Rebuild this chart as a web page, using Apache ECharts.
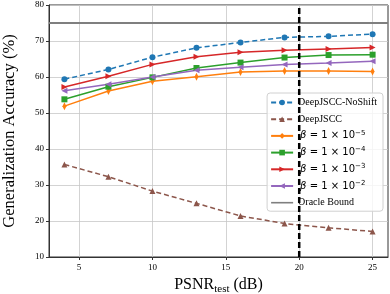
<!DOCTYPE html>
<html><head><meta charset="utf-8">
<script src="https://cdn.jsdelivr.net/npm/echarts@6/dist/echarts.min.js"></script>
<style>html,body{margin:0;padding:0;background:#fff}#c{width:390px;height:294px}</style>
</head><body><div id="c"></div>
<script>
const psnr = [4, 7, 10, 13, 16, 19, 22, 25];
const noShift = [59.4, 62.1, 65.5, 68.1, 69.6, 71.0, 71.3, 71.9];
const deepJSCC = [35.7, 32.3, 28.3, 24.9, 21.4, 19.3, 18.1, 17.1];
const beta5 = [51.9, 56.1, 58.8, 60.1, 61.4, 61.7, 61.7, 61.5];
const beta4 = [53.8, 57.3, 59.9, 62.5, 64.0, 65.4, 66.1, 66.2];
const beta3 = [57.2, 60.2, 63.5, 65.6, 66.9, 67.4, 67.8, 68.2];
const beta2 = [56.2, 58.0, 60.0, 61.9, 62.7, 63.5, 63.9, 64.4];
const oracleBound = 75;
const trainPSNR = 20;
const xTicks = [5, 10, 15, 20, 25];
const xMin = 2.95, xMax = 26.05;
const yMin = 10, yMax = 80;

const names = ['DeepJSCC-NoShift','DeepJSCC','b5','b4','b3','b2','Oracle Bound'];
const legendLabels = {
  b5: '{b|β}{m| = 1 × 10}{sup|−5}',
  b4: '{b|β}{m| = 1 × 10}{sup|−4}',
  b3: '{b|β}{m| = 1 × 10}{sup|−3}',
  b2: '{b|β}{m| = 1 × 10}{sup|−2}'
};
const pts = arr => psnr.map((x, i) => [x, arr[i]]);
function lineSeries(name, data, color, symbol, size, dashed, rotate) {
  return {
    name, type: 'line', data: pts(data), symbol, symbolSize: size,
    symbolRotate: rotate || 0,
    lineStyle: {color, width: 1.5, type: dashed ? [5, 3] : 'solid'},
    itemStyle: {color}, z: 3
  };
}
const legendData = names.map(n => n === 'Oracle Bound'
  ? {name: n, icon: 'path://M0,0H22V1.6H0Z'} : {name: n});
const chart = echarts.init(document.getElementById('c'), null, {renderer: 'canvas'});
chart.setOption({
  animation: false,
  grid: {left: 49, right: 2, top: 5, bottom: 37, show: true, borderColor: '#333', borderWidth: 1,
    containLabel: false, outerBoundsMode: 'none'},
  xAxis: {
    type: 'value', min: xMin, max: xMax,
    name: 'PSNR{sub|test} (dB)', nameLocation: 'middle', nameGap: 17,
    nameTextStyle: {fontFamily: 'Liberation Serif', fontSize: 16, color: '#000',
      rich: {sub: {fontFamily: 'Liberation Serif', fontSize: 11, verticalAlign: 'bottom', padding: [8,0,0,0], color: '#000'}}},
    axisLine: {lineStyle: {color: '#333', width: 1}},
    axisTick: {show: true, length: 3, lineStyle: {color: '#333'}, customValues: xTicks},
    axisLabel: {fontFamily: 'Liberation Serif', fontSize: 9, color: '#000', margin: 6, customValues: xTicks},
    splitLine: {show: true, lineStyle: {color: '#c8c8c8', width: 0.8}}
  },
  yAxis: {
    type: 'value', min: yMin, max: yMax, interval: 10,
    name: 'Generalization Accuracy (%)', nameLocation: 'middle', nameGap: 31,
    nameTextStyle: {fontFamily: 'Liberation Serif', fontSize: 16.5, color: '#000'},
    axisLine: {show: true, lineStyle: {color: '#333', width: 1}},
    axisTick: {show: true, length: 3, lineStyle: {color: '#333'}},
    axisLabel: {fontFamily: 'Liberation Serif', fontSize: 9, color: '#000', margin: 5},
    splitLine: {show: true, lineStyle: {color: '#c8c8c8', width: 0.8}}
  },
  legend: {
    data: legendData,
    orient: 'vertical', right: 7, top: 93,
    backgroundColor: 'rgba(255,255,255,0.8)', borderColor: '#d0d0d0', borderWidth: 1, borderRadius: 3,
    padding: [3, 6, 2, 3], itemGap: 3.7, itemWidth: 22, itemHeight: 7,
    formatter: n => legendLabels[n] || n,
    textStyle: {fontFamily: 'Liberation Serif', fontSize: 10, color: '#000', lineHeight: 13,
      rich: {
        b: {fontFamily: 'DejaVu Sans', fontStyle: 'italic', fontSize: 10, color: '#000', lineHeight: 13, padding: [0,0,0,2]},
        m: {fontFamily: 'DejaVu Sans', fontSize: 10, color: '#000', lineHeight: 13},
        sup: {fontFamily: 'DejaVu Sans', fontSize: 7, verticalAlign: 'top', lineHeight: 13, padding: [0,0,4,0], color: '#000'}
      }}
  },
  series: [
    lineSeries('DeepJSCC-NoShift', noShift, '#1f77b4', 'circle', 6, true),
    lineSeries('DeepJSCC', deepJSCC, '#8c564b', 'triangle', 6, true),
    lineSeries('b5', beta5, '#ff7f0e', 'diamond', [4, 8], false),
    lineSeries('b4', beta4, '#2ca02c', 'rect', 6, false),
    lineSeries('b3', beta3, '#d62728', 'triangle', 6, false, -90),
    lineSeries('b2', beta2, '#9467bd', 'triangle', 6, false, 90),
    {name: 'Oracle Bound', type: 'line', data: [[xMin, oracleBound], [xMax, oracleBound]],
      symbol: 'none', lineStyle: {color: '#7f7f7f', width: 2}, itemStyle: {color: '#7f7f7f'}, z: 2},
    {name: 'train', type: 'line', data: [[trainPSNR, yMin], [trainPSNR, yMax]],
      symbol: 'none', lineStyle: {color: '#000', width: 2.5, type: [6, 3]}, z: 4, silent: true}
  ]
});
</script></body></html>
